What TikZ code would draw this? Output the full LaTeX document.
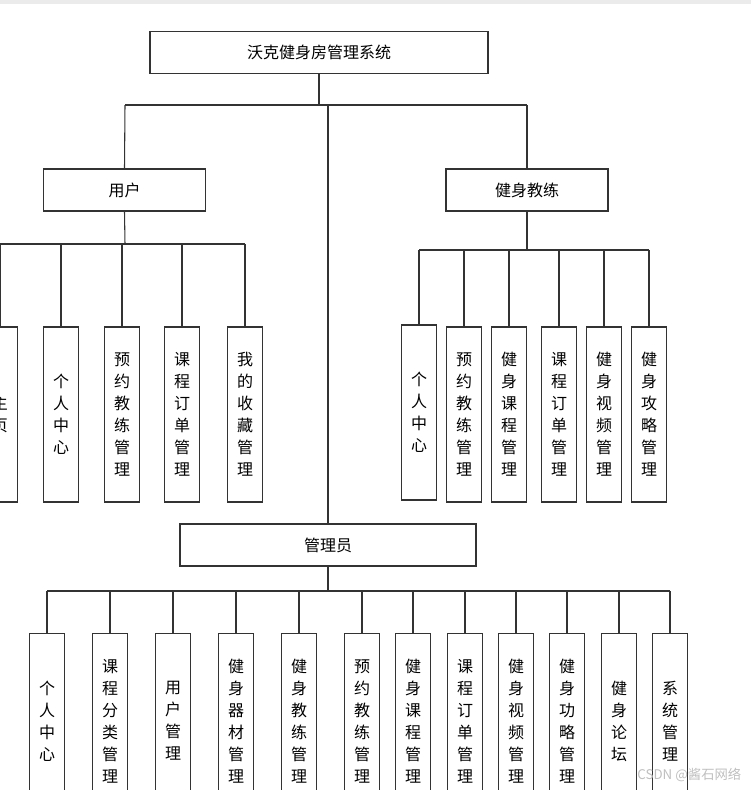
\documentclass[tikz,border=0pt]{standalone}
\usepackage{fontspec}
\setmainfont{Noto Sans CJK SC}
\begin{document}
\begin{tikzpicture}[x=0.75pt,y=-0.75pt,
  hbox/.style={draw=black!80,line width=0.8pt,minimum height=31.5pt,inner sep=0pt,font=\fontsize{12}{14}\selectfont},
  vbox/.style={draw=black!80,line width=0.8pt,minimum width=26.25pt,inner sep=0pt,align=center,font=\fontsize{12}{16.5}\selectfont},
  conn/.style={draw=black!80,line width=0.8pt}]
\useasboundingbox (0,0) rectangle (751,790);
\clip (0,0) rectangle (751,790);
\fill[black!8] (0,0) rectangle (751,4);
% top
\node[hbox,minimum width=253.5pt] (root) at (319,52.5) {沃克健身房管理系统};
\node[hbox,minimum width=122pt] (user) at (124.5,190) {用户};
\node[hbox,minimum width=121.5pt] (coach) at (527,190) {健身教练};
\node[hbox,minimum width=222pt] (admin) at (328,545) {管理员};
\coordinate (j0) at (319,105);
\draw[conn] (root.south) -- (j0);
\draw[conn] (125,105) -- (527,105);
\draw[conn] (125,105) -- (user.north);
\draw[conn] (527,105) -- (coach.north);
\draw[conn] (328,105) -- (admin.north);
% user children
\draw[conn] (user.south) -- (125,244);
\draw[conn] (0,244) -- (245,244);
\foreach \n/\x/\t in {u0/0/主\\页, u1/61/个\\人\\中\\心, u2/122/预\\约\\教\\练\\管\\理, u3/182/课\\程\\订\\单\\管\\理, u4/245/我\\的\\收\\藏\\管\\理}{
  \node[vbox,minimum height=131.25pt] (\n) at (\x,414.5) {\t};
  \draw[conn] (\x,244) -- (\n.north);
}
% coach children
\draw[conn] (coach.south) -- (527,250);
\draw[conn] (419,250) -- (649,250);
\node[vbox,minimum height=131.25pt] (c0) at (419,412.5) {个\\人\\中\\心};
\draw[conn] (419,250) -- (c0.north);
\foreach \n/\x/\t in {c1/464/预\\约\\教\\练\\管\\理, c2/509/健\\身\\课\\程\\管\\理, c3/559/课\\程\\订\\单\\管\\理, c4/604/健\\身\\视\\频\\管\\理, c5/649/健\\身\\攻\\略\\管\\理}{
  \node[vbox,minimum height=131.25pt] (\n) at (\x,414.5) {\t};
  \draw[conn] (\x,250) -- (\n.north);
}
% admin children
\draw[conn] (admin.south) -- (328,591);
\draw[conn] (47,591) -- (670,591);
\foreach \n/\x/\t in {a1/47/个\\人\\中\\心, a2/110/课\\程\\分\\类\\管\\理, a3/173/用\\户\\管\\理, a4/236/健\\身\\器\\材\\管\\理, a5/299/健\\身\\教\\练\\管\\理, a6/362/预\\约\\教\\练\\管\\理, a7/413/健\\身\\课\\程\\管\\理, a8/465/课\\程\\订\\单\\管\\理, a9/516/健\\身\\视\\频\\管\\理, a10/567/健\\身\\功\\略\\管\\理, a11/619/健\\身\\论\\坛, a12/670/系\\统\\管\\理}{
  \node[vbox,minimum height=131.25pt] (\n) at (\x,721) {\t};
  \draw[conn] (\x,591) -- (\n.north);
}
\node[text=black!25,font=\fontsize{10}{12}\selectfont,anchor=east] (wm) at (746,775) {CSDN @酱石网络};
\end{tikzpicture}
\end{document}
